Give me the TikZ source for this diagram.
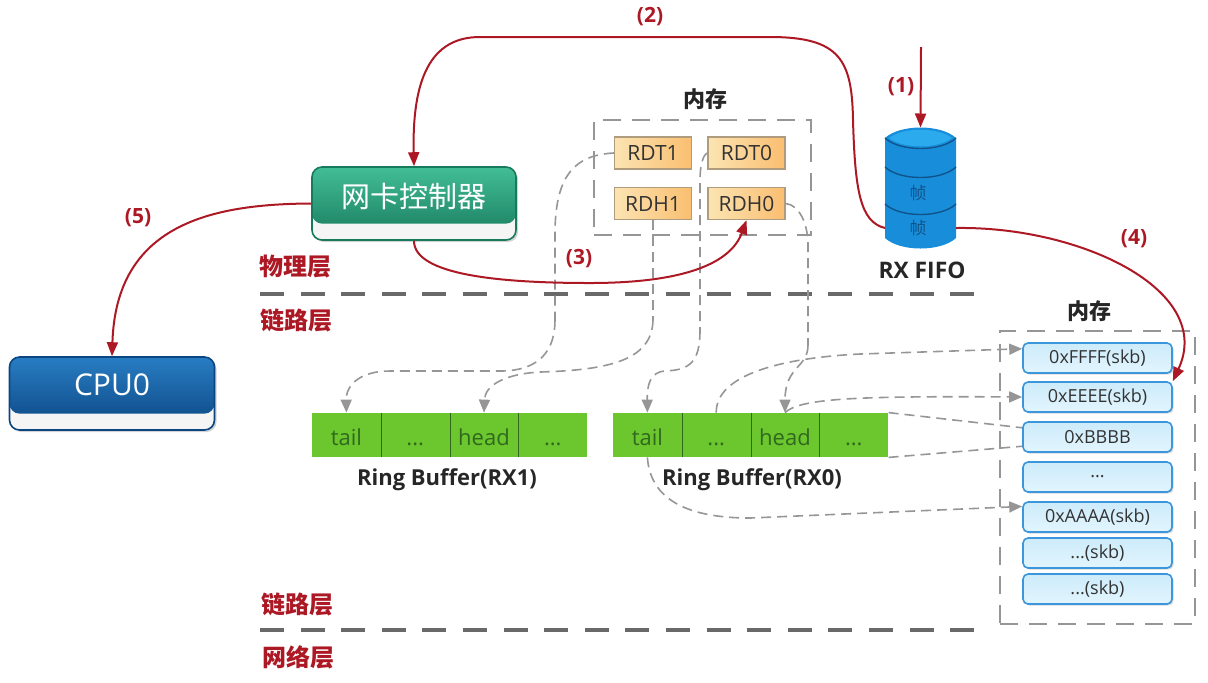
\documentclass[tikz,border=0pt]{standalone}
\usepackage{fontspec}
\setmainfont{Open Sans}
\newfontfamily\cjk{Noto Sans CJK SC}
\usepackage{xcolor}
\usetikzlibrary{positioning, arrows.meta, shadows}

\definecolor{flowRed}{RGB}{172,24,36}
\definecolor{linkGray}{RGB}{150,150,150}
\definecolor{layerGray}{RGB}{105,105,105}
\definecolor{ringGreen}{RGB}{108,198,45}
\definecolor{ringText}{RGB}{48,105,30}
\definecolor{regLeft}{RGB}{251,228,178}
\definecolor{regRight}{RGB}{250,190,112}
\definecolor{regEdge}{RGB}{175,155,125}
\definecolor{skbTop}{RGB}{205,235,250}
\definecolor{skbBottom}{RGB}{226,245,254}
\definecolor{skbEdge}{RGB}{60,150,220}
\newcommand{\gapDots}{...}

\tikzset{
  flow/.style={draw=flowRed, line width=1pt, -{Triangle[length=7pt, width=5.5pt]}},
  flowLabel/.style={text=flowRed, font=\bfseries\fontsize{10.5}{12}\selectfont},
  layerLabel/.style={text=flowRed, font=\cjk\bfseries\fontsize{12}{14}\selectfont},
  layerLine/.style={draw=layerGray, line width=2pt, dash pattern=on 12pt off 8.3pt},
  memBox/.style={draw=linkGray, line width=1pt, dash pattern=on 9pt off 5.5pt, minimum width=#1},
  memTitle/.style={font=\cjk\bfseries\fontsize{11}{13}\selectfont, text=black!85},
  link/.style={draw=linkGray, line width=0.8pt, dash pattern=on 5pt off 3pt},
  linkArrow/.style={link, -{Triangle[length=6.5pt, width=5.5pt, fill=linkGray]}},
  regBox/.style={draw=regEdge, line width=0.7pt, left color=regLeft, right color=regRight, minimum width=38.5pt, minimum height=16pt, inner sep=0pt, font=\fontsize{10.5}{12}\selectfont, text=black!80},
  skbBox/.style={draw=skbEdge, line width=0.8pt, rounded corners=2.5pt, top color=skbTop, bottom color=skbBottom, minimum width=74.5pt, minimum height=15pt, inner sep=0pt, font=\fontsize{9}{11}\selectfont, text=black!80, drop shadow={shadow xshift=0.8pt, shadow yshift=-0.8pt, opacity=0.3}},
  ringCell/.style={fill=ringGreen, minimum width=34.4pt, inner sep=0pt, text height=16pt, text depth=6pt, font=\fontsize{11}{13}\selectfont, text=ringText},
  ringTitle/.style={font=\bfseries\fontsize{11}{13}\selectfont, text=black!85},
  frameText/.style={font=\cjk\fontsize{8.5}{10}\selectfont, text=fifoEdge},
  cardBox/.style n args={3}{draw=#2, line width=0.8pt, rounded corners=5pt, fill=black!4, minimum width=#3, inner sep=0pt, text=white, drop shadow={shadow xshift=1pt, shadow yshift=-1pt, opacity=0.35},
    path picture={\shade[top color=#1, bottom color=#2] ([yshift=8.2pt]path picture bounding box.south west) rectangle (path picture bounding box.north east);}}
}

\begin{document}
\begin{tikzpicture}[x=0.5pt, y=-0.5pt]
  \useasboundingbox (0,0) rectangle (1208,682);

  \definecolor{cardGreenA}{RGB}{66,190,150}
  \definecolor{cardGreenB}{RGB}{24,122,92}
  \definecolor{cardBlueA}{RGB}{40,125,195}
  \definecolor{cardBlueB}{RGB}{12,70,130}
  \definecolor{fifoSide}{RGB}{24,142,218}
  \definecolor{fifoBody}{RGB}{44,170,238}
  \definecolor{fifoEdge}{RGB}{16,84,140}

  \node[cardBox={cardGreenA}{cardGreenB}{102pt}, text height=20pt, text depth=16.5pt, font=\cjk\fontsize{14.5}{16}\selectfont] (nicCtrl) at (414,203.5) {网卡控制器};
  \node[cardBox={cardBlueA}{cardBlueB}{102.5pt}, text height=19pt, text depth=17.5pt, font=\fontsize{15}{17}\selectfont] (cpuZero) at (112,393.5) {CPU0};

  \node[memBox=108.5pt, minimum height=57.5pt] (memTop) at (702.5,177.5) {};
  \node[memTitle] (memTopTitle) at (705,99) {内存};
  \node[regBox] (rdtOne) at (653,153) {RDT1};
  \node[regBox] (rdtZero) at (746.5,153) {RDT0};
  \node[regBox] (rdhOne) at (653,203.5) {RDH1};
  \node[regBox] (rdhZero) at (746.5,203.5) {RDH0};

  \node[minimum width=35.5pt, minimum height=60.5pt, inner sep=0pt, outer sep=0pt] (rxFifo) at (920.5,188) {};
  \fill[fifoSide] (885,138) -- (885,238) .. controls (900,252) and (941,252) .. (956,238) -- (956,138) .. controls (941,124) and (900,124) .. (885,138) -- cycle;
  \fill[fifoBody] (889,138) .. controls (903,149) and (938,149) .. (952,138) .. controls (938,127) and (903,127) .. (889,138) -- cycle;
  \draw[fifoEdge, line width=0.7pt] (885,138) .. controls (900,152) and (941,152) .. (956,138);
  \draw[fifoEdge, line width=0.7pt] (885,167) .. controls (900,181) and (941,181) .. (956,167);
  \draw[fifoEdge, line width=0.7pt] (885,204) .. controls (900,218) and (941,218) .. (956,204);
  \node[frameText] (frameUp) at (918,193) {帧};
  \node[frameText] (frameDown) at (918,228) {帧};
  \node[font=\bfseries\fontsize{11.4}{13}\selectfont, text=black!85] (fifoTitle) at (922,270) {RX FIFO};

  \foreach \i/\txt in {0/tail, 1/\gapDots, 2/head, 3/\gapDots}{
    \node[ringCell] (ringA\i) at ({346.4+68.8*\i},435) {\txt};
    \node[ringCell] (ringB\i) at ({647.4+68.8*\i},435) {\txt};
  }
  \foreach \i in {0, 1, 2}{
    \draw[ringText, line width=0.4pt] (ringA\i.north east) -- (ringA\i.south east);
    \draw[ringText, line width=0.4pt] (ringB\i.north east) -- (ringB\i.south east);
  }
  \node[ringTitle] (ringATitle) at (447,480) {Ring Buffer(RX1)};
  \node[ringTitle] (ringBTitle) at (752,480) {Ring Buffer(RX0)};

  \node[memBox=97.5pt, minimum height=146.5pt] (memSide) at (1097.5,477.5) {};
  \node[memTitle] (memSideTitle) at (1089,311) {内存};
  \foreach \ypos/\idx/\txt in {358/F/0xFFFF(skb), 397/E/0xEEEE(skb), 437/B/0xBBBB, 477/D/\gapDots, 517/A/0xAAAA(skb), 553/M/\gapDots(skb), 589/N/\gapDots(skb)}{
    \node[skbBox] (skb\idx) at (1097.5,\ypos) {\txt};
  }

  \coordinate (physLeft) at (260,294);
  \coordinate (physRight) at (975,294);
  \coordinate (netLeft) at (260,630);
  \coordinate (netRight) at (975,630);
  \draw[layerLine] (physLeft) -- (physRight);
  \draw[layerLine] (netLeft) -- (netRight);
  \node[layerLabel] (layerPhys) at (295,267) {物理层};
  \node[layerLabel] (layerLinkUp) at (296,320) {链路层};
  \node[layerLabel] (layerLinkDown) at (297,604) {链路层};
  \node[layerLabel] (layerNet) at (298,657) {网络层};

  \coordinate (bendA) at (555,320);
  \coordinate (bendB) at (653,320);
  \coordinate (bendC) at (700,330);
  \coordinate (bendD) at (808,345);
  \draw[link] (rdtOne.west) .. controls (575,155) and (556,175) .. (555,230) -- (bendA);
  \draw[linkArrow] (bendA) .. controls (555,350) and (540,371) .. (500,371) -- (390,371) .. controls (360,371) and (346,385) .. (ringA0.north);
  \draw[link] (rdhOne.south) -- (bendB);
  \draw[linkArrow] (bendB) .. controls (652,360) and (610,370) .. (540,372) .. controls (505,374) and (485,385) .. (ringA2.north);
  \draw[link] (rdtZero.west) .. controls (703,155) and (700,165) .. (700,180) -- (bendC);
  \draw[linkArrow] (bendC) .. controls (700,362) and (690,370) .. (665,371) .. controls (650,372) and (647,385) .. (ringB0.north);
  \draw[link] (rdhZero.east) .. controls (800,205) and (808,225) .. (808,245) -- (bendD);
  \draw[linkArrow] (bendD) .. controls (808,368) and (785,366) .. (ringB2.north);

  \draw[linkArrow] (ringB1.north) .. controls (716,375) and (780,358) .. (860,354) -- (skbF.173);
  \draw[linkArrow] (ringB2.north) .. controls (800,398) and (860,396) .. (skbE.west);
  \draw[link] (ringB3.north east) -- (skbB.173);
  \draw[link] (ringB3.south east) -- (skbB.187);
  \draw[linkArrow] (ringB0.south) .. controls (650,495) and (680,518) .. (750,518) -- (skbA.172);

  \coordinate (wireIn) at (921,47);
  \draw[flow] (wireIn) -- (rxFifo.north);
  \node[flowLabel] (stepOne) at (901,87) {(1)};
  \draw[flow] (rxFifo.west |- frameDown) .. controls (860,222) and (855,190) .. (853,120) .. controls (852,60) and (840,37) .. (770,37) -- (480,37) .. controls (430,37) and (412,80) .. (nicCtrl.north);
  \node[flowLabel] (stepTwo) at (650,17) {(2)};
  \draw[flow] (nicCtrl.south) .. controls (414,275) and (500,283) .. (590,283) .. controls (680,283) and (730,265) .. (rdhZero.south);
  \node[flowLabel] (stepThree) at (579,259) {(3)};
  \draw[flow] (rxFifo.east |- frameDown) .. controls (1080,226) and (1215,290) .. (skbE.north east);
  \node[flowLabel] (stepFour) at (1134,239) {(4)};
  \draw[flow] (nicCtrl.west) .. controls (210,204) and (116,225) .. (cpuZero.north);
  \node[flowLabel] (stepFive) at (138,218) {(5)};
\end{tikzpicture}
\end{document}
